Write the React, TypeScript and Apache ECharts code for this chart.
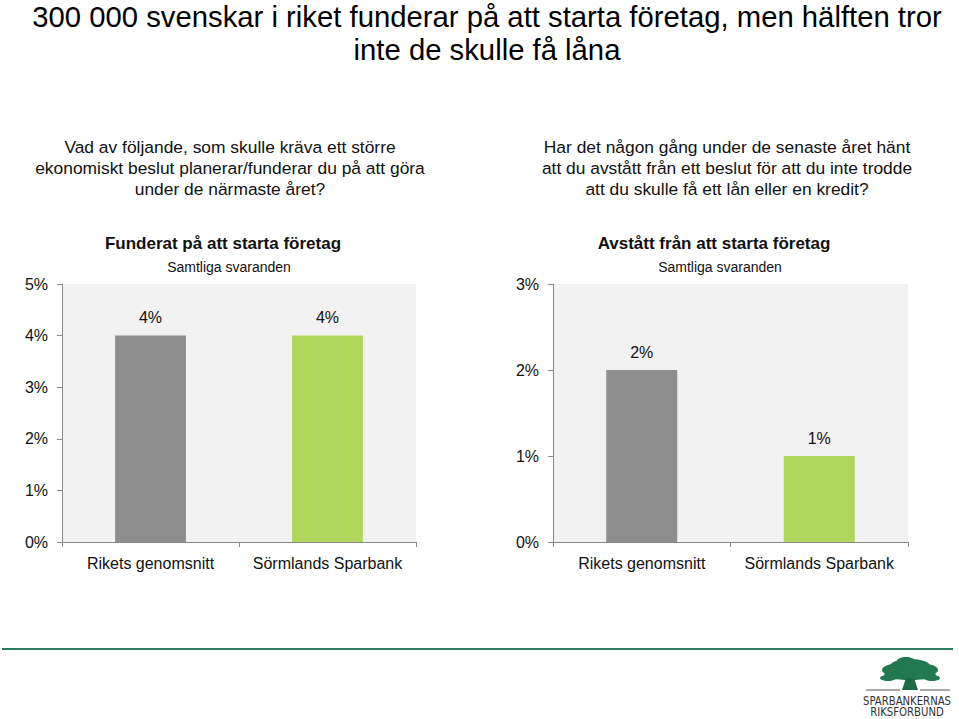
import React, { useEffect, useRef } from "react";
import * as echarts from "echarts";

const categories = ["Rikets genomsnitt", "Sörmlands Sparbank"];
const funderatValues = [4, 4];
const avstattValues = [2, 1];
const barColors = ["#8e8e8e", "#b0d75b"];
const mainTitle = [
  "300 000 svenskar i riket funderar på att starta företag, men hälften tror",
  "inte de skulle få låna",
];
const leftQuestion = [
  "Vad av följande, som skulle kräva ett större",
  "ekonomiskt beslut planerar/funderar du på att göra",
  "under de närmaste året?",
];
const rightQuestion = [
  "Har det någon gång under de senaste året hänt",
  "att du avstått från ett beslut för att du inte trodde",
  "att du skulle få ett lån eller en kredit?",
];
const chartTitles = ["Funderat på att starta företag", "Avstått från att starta företag"];
const chartSubtitle = "Samtliga svaranden";
const logoLines = ["SPARBANKERNAS", "RIKSFÖRBUND"];

const FONT = "'Liberation Sans', Arial, sans-serif";

export default function App() {
  const ref = useRef<HTMLDivElement>(null);
  useEffect(() => {
    document.body.style.margin = "0";
    const chart = echarts.init(ref.current!, null, { renderer: "svg" });

    const axisLine = { show: true, lineStyle: { color: "#8a8a8a", width: 1 } };
    const yAxis = (max: number, idx: number) => ({
      type: "value",
      gridIndex: idx,
      min: 0,
      max,
      interval: 1,
      axisLine,
      axisTick: { show: true, length: 5, lineStyle: { color: "#8a8a8a" } },
      splitLine: { show: false },
      axisLabel: { formatter: "{value}%", fontSize: 16, color: "#111", fontFamily: FONT, margin: 14 },
    });
    const xAxis = (idx: number) => ({
      type: "category",
      gridIndex: idx,
      data: categories,
      axisLine,
      axisTick: { show: true, length: 5, alignWithLabel: false, interval: 0, lineStyle: { color: "#8a8a8a" } },
      axisLabel: { interval: 0, hideOverlap: false, fontSize: 16, color: "#111", fontFamily: FONT, margin: 13 },
    });
    const barSeries = (values: number[], idx: number) => ({
      type: "bar",
      xAxisIndex: idx,
      yAxisIndex: idx,
      barWidth: "40%",
      data: values.map((v, i) => ({ value: v, itemStyle: { color: barColors[i] } })),
      label: {
        show: true,
        position: "top",
        distance: 10,
        formatter: "{c}%",
        fontSize: 16,
        color: "#111",
        fontFamily: FONT,
      },
    });

    const textEl = (text: string, x: number, y: number, size: number, extra: any = {}, scaleX = 1) => ({
      type: "text",
      x,
      y,
      scaleX,
      style: {
        text,
        fontSize: size,
        fontFamily: FONT,
        fill: "#111",
        textAlign: "center",
        textVerticalAlign: "middle",
        ...extra,
      },
    });

    const graphics: any[] = [];
    mainTitle.forEach((t, i) => graphics.push(textEl(t, 487, 17 + i * 33, 29, { fill: "#000" }, 1.01)));
    leftQuestion.forEach((t, i) => graphics.push(textEl(t, 230, 147 + i * 21, 17.4)));
    rightQuestion.forEach((t, i) => graphics.push(textEl(t, 727, 147 + i * 21, 17.4)));
    graphics.push(textEl(chartTitles[0], 223, 243, 17, { fontWeight: "bold" }));
    graphics.push(textEl(chartTitles[1], 714, 243, 17, { fontWeight: "bold" }));
    graphics.push(textEl(chartSubtitle, 229, 267, 14));
    graphics.push(textEl(chartSubtitle, 720, 267, 14));
    graphics.push({
      type: "line",
      shape: { x1: 2, y1: 649, x2: 953, y2: 649 },
      style: { stroke: "#2b7b62", lineWidth: 2 },
    });
    // logo: tree
    const treeGreen = "#22784f";
    const blobs = [
      [910, 666, 20, 7],
      [895, 670, 13, 6],
      [925, 670, 13, 6],
      [910, 675, 26, 5],
      [888, 678, 8, 3],
      [932, 678, 8, 3],
      [906, 661, 9, 4],
    ];
    blobs.forEach(([cx, cy, rx, ry]) =>
      graphics.push({ type: "ellipse", shape: { cx, cy, rx, ry }, style: { fill: treeGreen } })
    );
    graphics.push({
      type: "polygon",
      shape: { points: [[906, 678], [914, 678], [918, 690], [902, 690]] },
      style: { fill: "#1e6a45" },
    });
    graphics.push({ type: "line", shape: { x1: 866, y1: 690, x2: 900, y2: 690 }, style: { stroke: "#555", lineWidth: 1 } });
    graphics.push({ type: "line", shape: { x1: 920, y1: 690, x2: 950, y2: 690 }, style: { stroke: "#555", lineWidth: 1 } });
    const logoFont = "'Liberation Sans Narrow', 'DejaVu Sans Condensed', sans-serif";
    graphics.push(textEl(logoLines[0], 907, 701, 12.5, { fontFamily: logoFont, fill: "#333" }, 0.9));
    graphics.push(textEl(logoLines[1], 907, 712, 12.5, { fontFamily: logoFont, fill: "#333" }, 0.9));

    chart.setOption({
      animation: false,
      backgroundColor: "#ffffff",
      grid: [
        { left: 62, top: 284, width: 354, height: 258, show: true, backgroundColor: "#f2f2f2", borderWidth: 0 },
        { left: 553, top: 284, width: 355, height: 258, show: true, backgroundColor: "#f2f2f2", borderWidth: 0 },
      ],
      xAxis: [xAxis(0), xAxis(1)],
      yAxis: [yAxis(5, 0), yAxis(3, 1)],
      series: [barSeries(funderatValues, 0), barSeries(avstattValues, 1)],
      graphic: graphics,
    });
    return () => chart.dispose();
  }, []);
  return <div ref={ref} style={{ width: 959, height: 719 }} />;
}
